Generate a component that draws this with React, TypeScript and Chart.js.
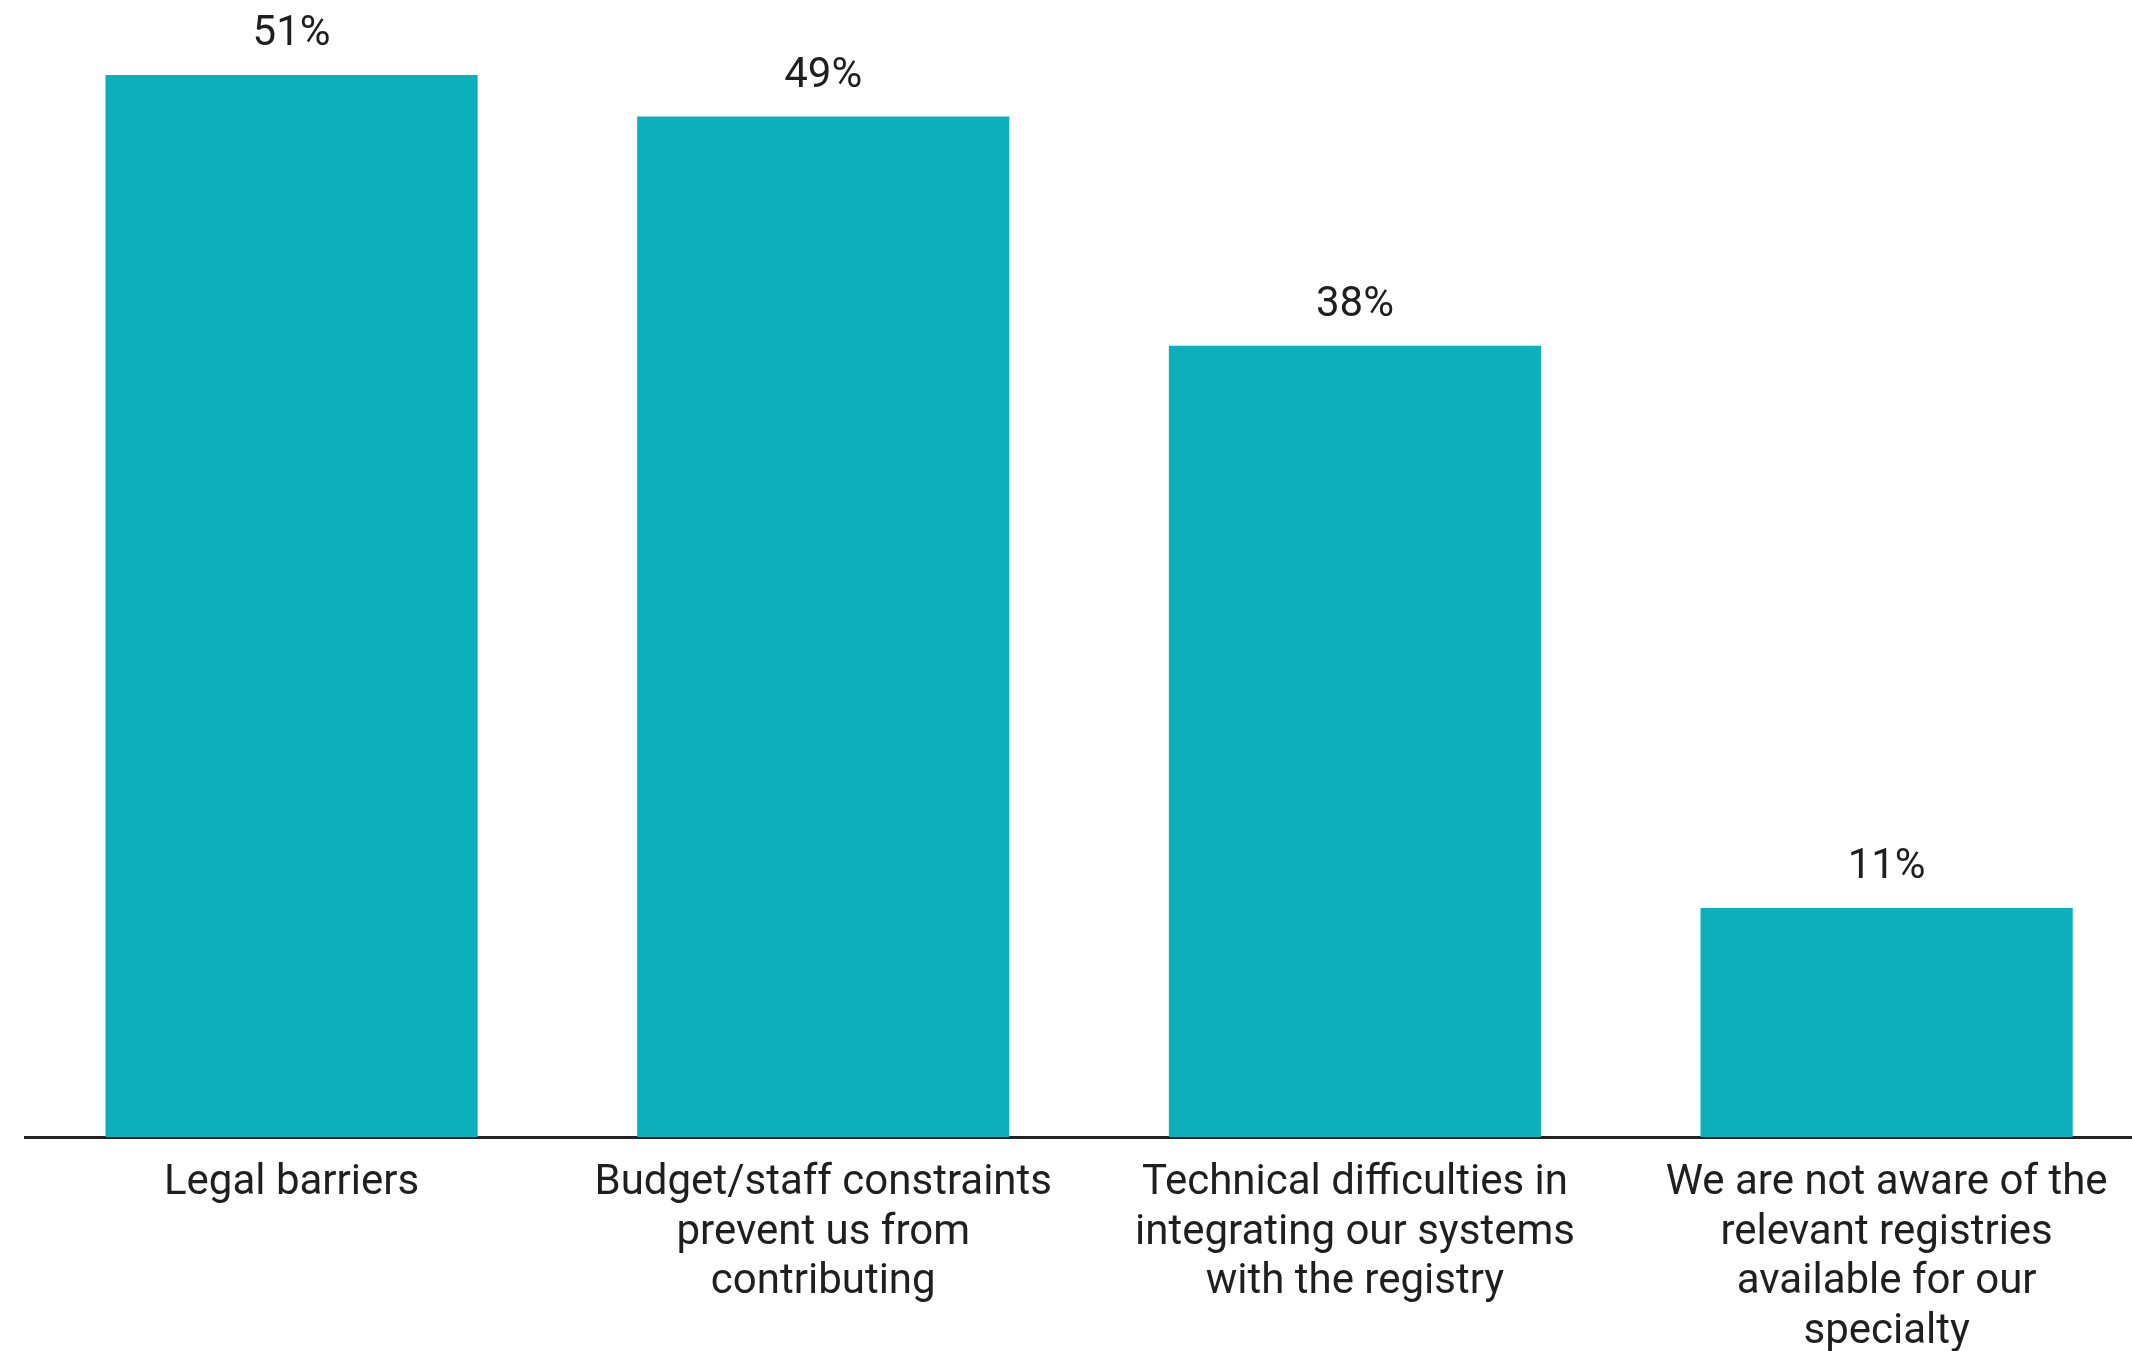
import React, { useEffect, useRef } from "react";
import { Chart, registerables } from "chart.js";

Chart.register(...registerables);

const categories: string[][] = [
  ["Legal barriers"],
  ["Budget/staff constraints", "prevent us from", "contributing"],
  ["Technical difficulties in", "integrating our systems", "with the registry"],
  ["We are not aware of the", "relevant registries", "available for our", "specialty"],
];
const values: number[] = [51, 49, 38, 11];
const valueLabels: string[] = ["51%", "49%", "38%", "11%"];

const BAR_COLOR = "#0DAFBA";
const TEXT_COLOR = "#1f1f1f";
const FONT = "Roboto";

const valueLabelPlugin = {
  id: "valueLabels",
  afterDatasetsDraw(chart: any) {
    const ctx = chart.ctx;
    const meta = chart.getDatasetMeta(0);
    ctx.save();
    ctx.font = `42px ${FONT}`;
    ctx.fillStyle = TEXT_COLOR;
    ctx.textAlign = "center";
    ctx.textBaseline = "middle";
    meta.data.forEach((bar: any, i: number) => {
      ctx.fillText(valueLabels[i], bar.x, bar.y - 40);
    });
    ctx.restore();
  },
};

export default function App() {
  const ref = useRef<HTMLCanvasElement | null>(null);
  useEffect(() => {
    if (!ref.current) return;
    const chart = new Chart(ref.current, {
      type: "bar",
      data: {
        labels: categories,
        datasets: [
          {
            data: values,
            backgroundColor: BAR_COLOR,
            borderWidth: 0,
            barPercentage: 0.7,
            categoryPercentage: 1,
          },
        ],
      },
      options: {
        responsive: false,
        animation: false,
        devicePixelRatio: 1,
        layout: { padding: { left: 25.7, right: 7.5, top: 12.5, bottom: 0 } },
        plugins: {
          legend: { display: false },
          tooltip: { enabled: false },
        },
        scales: {
          y: {
            display: false,
            min: 0,
            max: 54,
          },
          x: {
            grid: { display: false, drawTicks: false },
            border: { display: true, color: "#222222", width: 3 },
            ticks: {
              color: TEXT_COLOR,
              font: { family: FONT, size: 42, lineHeight: 1.18 },
              padding: 22,
              maxRotation: 0,
              minRotation: 0,
              autoSkip: false,
            },
            afterFit: (scale: any) => {
              scale.height = 214;
            },
          },
        },
      },
      plugins: [valueLabelPlugin],
    });
    return () => chart.destroy();
  }, []);
  return (
    <div
      style={{
        position: "absolute",
        left: 0,
        top: 0,
        width: 2132,
        height: 1351,
        overflow: "hidden",
        background: "#ffffff",
      }}
    >
      <canvas ref={ref} width={2160} height={1351} style={{ display: "block" }} />
    </div>
  );
}
